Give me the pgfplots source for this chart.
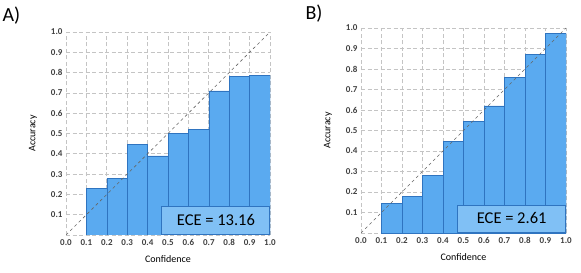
\documentclass[border=0pt]{standalone}
\usepackage{pgfplots}
\pgfplotsset{compat=1.18}
\usepackage{fontspec}
\setmainfont{Carlito}
\definecolor{barfill}{HTML}{5AAAF0}
\definecolor{baredge}{HTML}{2F74C0}
\definecolor{boxfill}{HTML}{80C0F5}
\definecolor{gridc}{HTML}{C4C4C4}
\pgfplotsset{
  calib/.style={
    scale only axis, width=204pt, height=203pt,
    xmin=0, xmax=1, ymin=0, ymax=1,
    xtick={0,0.1,...,1.0}, ytick={0,0.1,...,1.0},
    xticklabels={0.0,0.1,0.2,0.3,0.4,0.5,0.6,0.7,0.8,0.9,1.0},
    yticklabels={,0.1,0.2,0.3,0.4,0.5,0.6,0.7,0.8,0.9,1.0},
    grid=major, major grid style={dash pattern=on 4pt off 2.5pt, gridc, line width=0.7pt},
    axis line style={draw=none}, tick style={draw=none},
    tick label style={font=\fontsize{9}{10}\selectfont\bfseries, text=black!75},
    xticklabel style={yshift=-1pt},
    label style={font=\fontsize{10}{12}\selectfont},
    xlabel={Confidence}, ylabel={Accuracy},
    xlabel style={yshift=-3pt},
    ylabel style={yshift=7pt},
  }
}
\begin{document}
\begin{tikzpicture}[x=1pt,y=1pt]
\useasboundingbox (0,0) rectangle (581,273);
\node[anchor=west, font=\fontsize{20}{22}\selectfont] at (-1,257) {A)};
\node[anchor=west, font=\fontsize{20}{22}\selectfont] at (302,259) {B)};
\begin{axis}[calib, at={(66pt,38pt)}, anchor=south west]
\addplot[ybar interval, fill=barfill, draw=baredge, line width=0.6pt] coordinates {
(0.1,0.23) (0.2,0.28) (0.3,0.445) (0.4,0.39) (0.5,0.50) (0.6,0.52) (0.7,0.71) (0.8,0.78) (0.9,0.785) (1.0,0.785)};
\addplot[dashed, black!60, line width=0.6pt] coordinates {(0,0) (1,1)};
\draw[fill=boxfill, draw=baredge, line width=0.8pt] (axis cs:0.47,0.005) rectangle (axis cs:0.997,0.14);
\node[font=\fontsize{16.5}{18}\selectfont] at (axis cs:0.735,0.072) {ECE = 13.16};
\end{axis}
\begin{axis}[calib, at={(361pt,40pt)}, anchor=south west, width=205pt, height=205pt]
\addplot[ybar interval, fill=barfill, draw=baredge, line width=0.6pt] coordinates {
(0.1,0.145) (0.2,0.18) (0.3,0.28) (0.4,0.445) (0.5,0.545) (0.6,0.62) (0.7,0.76) (0.8,0.87) (0.9,0.975) (1.0,0.975)};
\addplot[dashed, black!60, line width=0.6pt] coordinates {(0,0) (1,1)};
\draw[fill=boxfill, draw=baredge, line width=0.8pt] (axis cs:0.47,0.005) rectangle (axis cs:0.997,0.137);
\node[font=\fontsize{16.5}{18}\selectfont] at (axis cs:0.735,0.071) {ECE = 2.61};
\end{axis}
\end{tikzpicture}
\end{document}
